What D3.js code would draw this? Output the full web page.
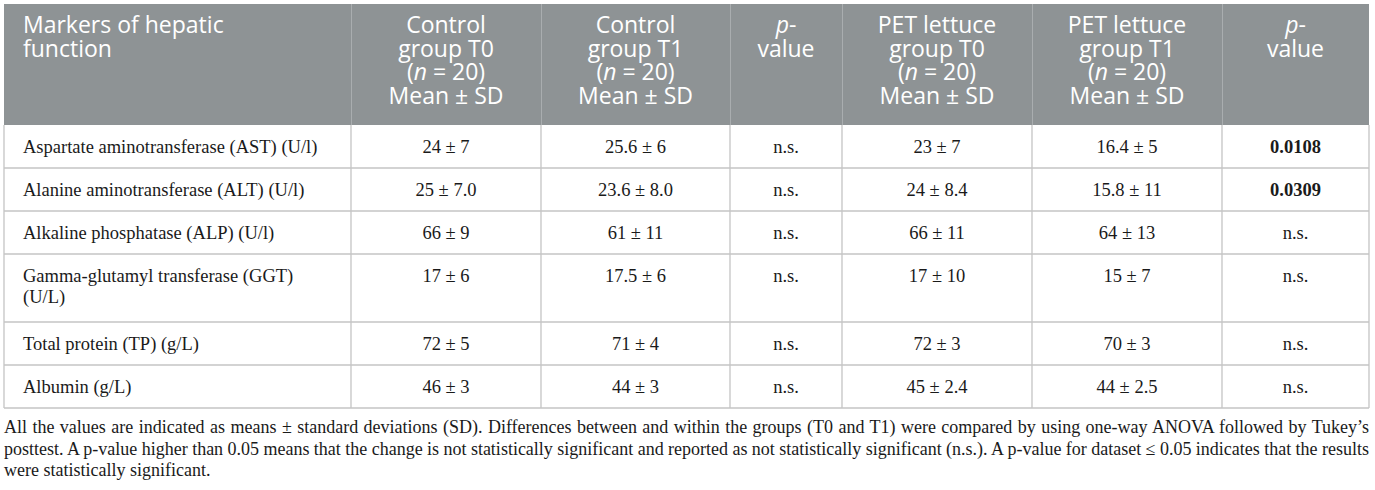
<!DOCTYPE html>
<html>
<head>
<meta charset="utf-8">
<script src="https://cdn.jsdelivr.net/npm/d3@7"></script>
<style>
  body { margin: 0; background: #fff; }
  svg { display: block; }
</style>
</head>
<body>
<div id="container"></div>
<script>
"use strict";

// table data
var markers = [
    ["Aspartate aminotransferase (AST) (U/l)"],
    ["Alanine aminotransferase (ALT) (U/l)"],
    ["Alkaline phosphatase (ALP) (U/l)"],
    ["Gamma-glutamyl transferase (GGT)", "(U/L)"],
    ["Total protein (TP) (g/L)"],
    ["Albumin (g/L)"]
];
var controlT0 = ["24 \u00b1 7", "25 \u00b1 7.0", "66 \u00b1 9", "17 \u00b1 6", "72 \u00b1 5", "46 \u00b1 3"];
var controlT1 = ["25.6 \u00b1 6", "23.6 \u00b1 8.0", "61 \u00b1 11", "17.5 \u00b1 6", "71 \u00b1 4", "44 \u00b1 3"];
var pControl = ["n.s.", "n.s.", "n.s.", "n.s.", "n.s.", "n.s."];
var petT0 = ["23 \u00b1 7", "24 \u00b1 8.4", "66 \u00b1 11", "17 \u00b1 10", "72 \u00b1 3", "45 \u00b1 2.4"];
var petT1 = ["16.4 \u00b1 5", "15.8 \u00b1 11", "64 \u00b1 13", "15 \u00b1 7", "70 \u00b1 3", "44 \u00b1 2.5"];
var pPet = ["0.0108", "0.0309", "n.s.", "n.s.", "n.s.", "n.s."];
var significant = [true, true, false, false, false, false];

// header lines; a three-part line has its middle part in italics
var headers = [
    [["Markers of hepatic"], ["function"]],
    [["Control"], ["group T0"], ["(", "n", " = 20)"], ["Mean \u00b1 SD"]],
    [["Control"], ["group T1"], ["(", "n", " = 20)"], ["Mean \u00b1 SD"]],
    [["", "p", "-"], ["value"]],
    [["PET lettuce"], ["group T0"], ["(", "n", " = 20)"], ["Mean \u00b1 SD"]],
    [["PET lettuce"], ["group T1"], ["(", "n", " = 20)"], ["Mean \u00b1 SD"]],
    [["", "p", "-"], ["value"]]
];

var footnoteLines = [
    "All the values are indicated as means \u00b1 standard deviations (SD). Differences between and within the groups (T0 and T1) were compared by using one-way ANOVA followed by Tukey\u2019s",
    "posttest. A p-value higher than 0.05 means that the change is not statistically significant and reported as not statistically significant (n.s.). A p-value for dataset \u2264 0.05 indicates that the results",
    "were statistically significant."
];

(function () {
    var width = 1375;
    var height = 490;
    var leftX = 4, rightX = 1369, topY = 4;
    var colWidths = [347, 190, 189, 112, 190, 190, 147];
    var headerHeight = 121;
    var rowHeights = [43, 43, 43, 68, 43, 43];

    var colEdges = [leftX];
    colWidths.forEach(function (w) { colEdges.push(colEdges[colEdges.length - 1] + w); });
    var rowEdges = [topY + headerHeight];
    rowHeights.forEach(function (h) { rowEdges.push(rowEdges[rowEdges.length - 1] + h); });

    var x = d3.scaleOrdinal().domain(d3.range(colEdges.length)).range(colEdges);
    var y = d3.scaleOrdinal().domain(d3.range(rowEdges.length)).range(rowEdges);

    function cellX(c) {
        return c === 0 ? x(0) + 19 : x(c) + colWidths[c] / 2;
    }

    var svg = d3.select("#container").append("svg").attr("width", width).attr("height", height);

    // header band
    svg.append("rect").attr("x", leftX).attr("y", topY)
        .attr("width", rightX - leftX).attr("height", headerHeight)
        .attr("fill", "#8e9395");

    var sans = "'Open Sans', sans-serif";
    var serif = "'Liberation Serif', 'Times New Roman', serif";

    var head = svg.append("g").attr("class", "header");
    headers.forEach(function (lines, c) {
        lines.forEach(function (parts, li) {
            var t = head.append("text")
                .attr("x", cellX(c))
                .attr("y", topY + 29 + li * 23.5)
                .attr("font-family", sans)
                .attr("font-size", 23)
                .attr("fill", "#fff")
                .attr("text-anchor", c === 0 ? "start" : "middle");
            if (parts.length === 1) {
                t.text(parts[0]);
            } else {
                parts.forEach(function (p, pi) {
                    if (!p) return;
                    t.append("tspan").attr("font-style", pi === 1 ? "italic" : null).text(p);
                });
            }
        });
    });

    // header separators
    head.selectAll("line.sep").data(d3.range(1, colWidths.length)).enter()
        .append("line").attr("class", "sep")
        .attr("x1", function (d) { return x(d) + 0.5; })
        .attr("x2", function (d) { return x(d) + 0.5; })
        .attr("y1", topY).attr("y2", topY + headerHeight)
        .attr("stroke", "#a9adaf").attr("stroke-width", 1);

    // body
    var rows = markers.map(function (m, i) {
        return [m, [controlT0[i]], [controlT1[i]], [pControl[i]], [petT0[i]], [petT1[i]], [pPet[i]]];
    });

    var body = svg.append("g").attr("class", "body");
    rows.forEach(function (cells, r) {
        cells.forEach(function (lines, c) {
            lines.forEach(function (l, li) {
                body.append("text")
                    .attr("x", cellX(c))
                    .attr("y", y(r) + 28 + li * 21)
                    .attr("font-family", serif)
                    .attr("font-size", 18.5)
                    .attr("fill", "#1a1a1a")
                    .attr("text-anchor", c === 0 ? "start" : "middle")
                    .attr("font-weight", c === 6 && significant[r] ? "bold" : null)
                    .text(l);
            });
        });
    });

    // grid lines
    var grid = svg.append("g").attr("stroke", "#c4c4c4").attr("stroke-width", 1.3);
    grid.selectAll("line.h").data(d3.range(1, rowEdges.length)).enter()
        .append("line").attr("class", "h")
        .attr("x1", leftX).attr("x2", rightX)
        .attr("y1", function (d) { return y(d); })
        .attr("y2", function (d) { return y(d); });
    grid.selectAll("line.v").data(d3.range(0, colEdges.length)).enter()
        .append("line").attr("class", "v")
        .attr("x1", function (d) { return x(d); })
        .attr("x2", function (d) { return x(d); })
        .attr("y1", topY + headerHeight)
        .attr("y2", y(rowHeights.length));

    // footnote, first lines justified to the table width
    var fn = svg.append("g").attr("class", "footnote");
    var maxW = rightX - leftX;
    footnoteLines.forEach(function (line, i) {
        var t = fn.append("text")
            .attr("font-family", serif)
            .attr("font-size", 18)
            .attr("fill", "#1a1a1a")
            .attr("x", leftX)
            .attr("y", y(rowHeights.length) + 25 + i * 21.5)
            .text(line);
        var gaps = line.split(" ").length - 1;
        if (i < footnoteLines.length - 1 && gaps > 0) {
            var extra = (maxW - t.node().getComputedTextLength()) / gaps;
            t.attr("word-spacing", extra);
        }
    });
})();
</script>
</body>
</html>
